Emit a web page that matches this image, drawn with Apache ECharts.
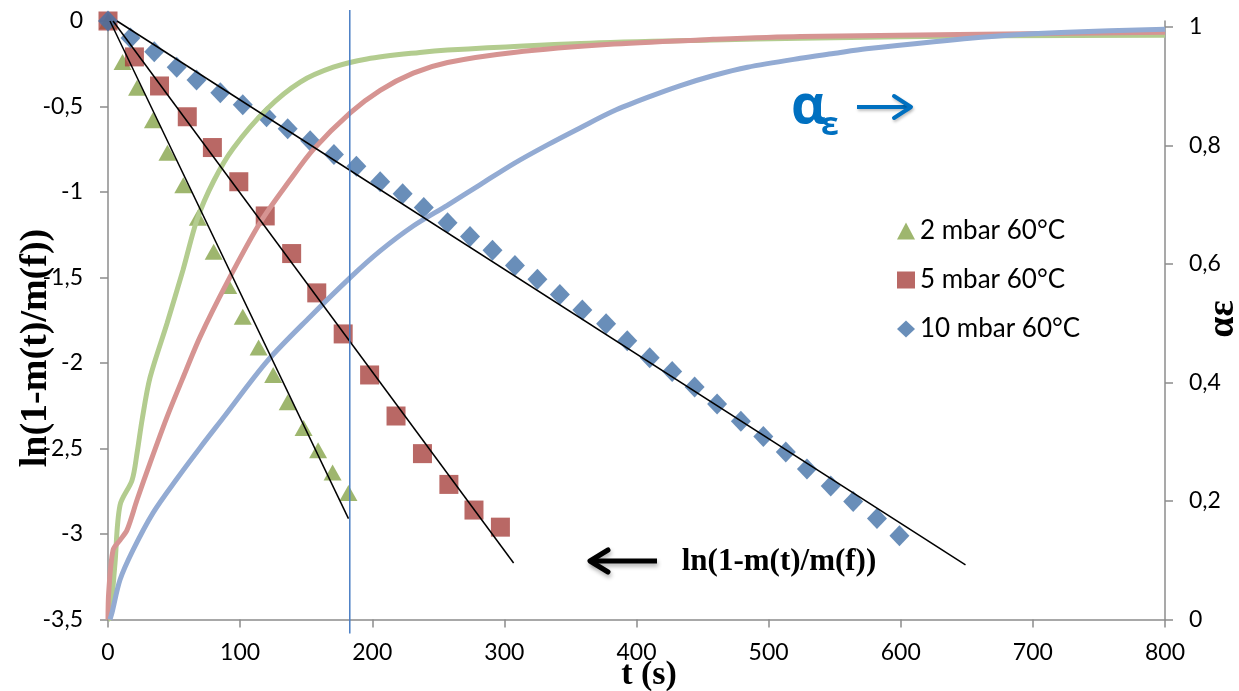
<!DOCTYPE html>
<html><head><meta charset="utf-8">
<script src="https://cdn.jsdelivr.net/npm/echarts@6/dist/echarts.min.js"></script>
<style>html,body{margin:0;padding:0;background:#fff}#c{width:1239px;height:691px}</style>
</head><body><div id="c"></div>
<script>
// ---- data ----
const names = ['2 mbar 60°C', '5 mbar 60°C', '10 mbar 60°C'];

const t2 = [0, 11, 22, 34, 45, 57, 68, 80, 91, 102, 114, 125, 136, 148, 159, 170, 182];
const y2 = [0, -0.24, -0.39, -0.58, -0.77, -0.96, -1.15, -1.35, -1.55, -1.73, -1.91, -2.07, -2.23, -2.38, -2.51, -2.64, -2.76];

const t5 = [0, 20, 39, 60, 79, 99, 119, 139, 158, 178, 198, 218, 238, 258, 277, 297];
const y5 = [0, -0.21, -0.38, -0.56, -0.74, -0.94, -1.14, -1.36, -1.59, -1.83, -2.07, -2.31, -2.53, -2.71, -2.86, -2.96];

const t10 = [0, 17, 35, 52, 67, 85, 102, 120, 136, 153, 171, 188, 206, 223, 239, 257, 274, 291, 308, 325, 342, 359, 377, 393, 410, 427, 444, 461, 479, 496, 513, 529, 547, 564, 582, 599];
const y10 = [0, -0.10, -0.18, -0.27, -0.345, -0.42, -0.49, -0.56, -0.63, -0.70, -0.78, -0.85, -0.94, -1.01, -1.09, -1.18, -1.26, -1.34, -1.43, -1.51, -1.60, -1.69, -1.77, -1.87, -1.97, -2.05, -2.14, -2.24, -2.34, -2.43, -2.52, -2.62, -2.72, -2.81, -2.91, -3.01];

// linear fits (ln axis)
const fit2T = [1.5, 182],  fit2Y = [0, -2.91];
const fit5T = [3.8, 307],  fit5Y = [0, -3.17];
const fit10T = [6.8, 649], fit10Y = [0, -3.18];

// alpha curves (right axis)
const a2T = [0, 1.5, 5.3, 9.1, 18.2, 22, 25.8, 31.8, 44.7, 56.8, 67.4, 80, 94.7, 120.5, 145.5, 170.5, 196, 236, 257, 358, 458, 524, 676, 800];
const a2V = [0, 0.003, 0.095, 0.193, 0.235, 0.281, 0.337, 0.408, 0.50, 0.59, 0.675, 0.74, 0.795, 0.862, 0.907, 0.932, 0.946, 0.957, 0.961, 0.972, 0.978, 0.981, 0.985, 0.986];

const a5T = [0, 0.5, 3.8, 9.1, 14.4, 22, 31.8, 44.7, 56, 69.7, 90.2, 115.2, 137.9, 155.3, 183.3, 206, 231, 257, 307, 383, 458, 524, 800];
const a5V = [0, 0.045, 0.117, 0.134, 0.151, 0.202, 0.264, 0.342, 0.404, 0.477, 0.569, 0.67, 0.742, 0.793, 0.855, 0.893, 0.922, 0.94, 0.957, 0.971, 0.979, 0.984, 0.991];

const a10T = [1.5, 3, 9.1, 18.9, 34.1, 52.3, 69.7, 87.1, 120.5, 153, 183.3, 206, 231, 256.8, 281.8, 306.8, 332.6, 357.6, 382.6, 408.3, 433.3, 458.3, 484, 524, 549, 574, 625, 676, 726, 800];
const a10V = [0, 0.011, 0.067, 0.117, 0.18, 0.238, 0.29, 0.34, 0.436, 0.511, 0.577, 0.622, 0.664, 0.699, 0.734, 0.769, 0.801, 0.83, 0.858, 0.881, 0.901, 0.918, 0.932, 0.947, 0.955, 0.963, 0.975, 0.985, 0.991, 0.996];

const markT = [183, 183], markY = [0.064, -3.582];

// ---- chart ----
const zip = (xs, ys) => xs.map((x, i) => [x, ys[i]]);
const comma = v => String(Math.round(v * 100) / 100).replace('.', ',');
const axisGrey = '#8c8c8c';
const tickFont = { fontFamily: 'Lato', fontSize: 23, color: '#000' };

const chart = echarts.init(document.getElementById('c'), null, { renderer: 'canvas' });
chart.setOption({
  animation: false,
  backgroundColor: '#fff',
  grid: { left: 108, right: 74, top: 21, bottom: 71.5, containLabel: false },
  xAxis: {
    type: 'value', min: 0, max: 800, interval: 100,
    axisLine: { show: true, onZero: false, lineStyle: { color: axisGrey, width: 1.5 } },
    axisTick: { show: true, inside: false, length: 8, lineStyle: { color: axisGrey, width: 1.5 } },
    axisLabel: Object.assign({ margin: 22 }, tickFont),
    splitLine: { show: false }
  },
  yAxis: [{
    type: 'value', min: -3.5, max: 0, interval: 0.5, position: 'left',
    axisLine: { show: true, onZero: false, lineStyle: { color: axisGrey, width: 1.5 } },
    axisTick: { show: true, inside: false, length: 8, lineStyle: { color: axisGrey, width: 1.5 } },
    axisLabel: Object.assign({ margin: 25, formatter: comma }, tickFont),
    splitLine: { show: false }
  }, {
    type: 'value', min: 0, max: 1.01, interval: 0.2, position: 'right',
    axisLine: { show: true, onZero: false, lineStyle: { color: axisGrey, width: 1.5 } },
    axisTick: { show: true, inside: false, length: 8, lineStyle: { color: axisGrey, width: 1.5 } },
    axisLabel: Object.assign({ margin: 24, showMaxLabel: false,
      formatter: v => (Math.abs(v * 5 - Math.round(v * 5)) < 1e-6 ? comma(v) : '') }, tickFont),
    splitLine: { show: false }
  }],
  legend: {
    data: names, orient: 'vertical', left: 892, top: 213,
    itemWidth: 18, itemHeight: 17, itemGap: 23,
    textStyle: { fontFamily: 'Lato', fontSize: 26, color: '#000' }
  },
  series: [
    { name: names[0], type: 'scatter', symbol: 'triangle', symbolSize: [18, 16], data: zip(t2, y2), itemStyle: { color: '#86A44A' }, z: 2 },
    { name: names[1], type: 'scatter', symbol: 'rect', symbolSize: 19, data: zip(t5, y5), itemStyle: { color: '#A8423F' }, z: 2 },
    { name: names[2], type: 'scatter', symbol: 'diamond', symbolSize: [20, 21], data: zip(t10, y10), itemStyle: { color: '#4472A8' }, z: 2 },
    { name: 'a2', type: 'line', yAxisIndex: 1, data: zip(a2T, a2V), showSymbol: false, smooth: 0.3, lineStyle: { color: '#B3CC8F', width: 5 }, z: 3 },
    { name: 'a5', type: 'line', yAxisIndex: 1, data: zip(a5T, a5V), showSymbol: false, smooth: 0.3, lineStyle: { color: '#D69492', width: 5 }, z: 3 },
    { name: 'a10', type: 'line', yAxisIndex: 1, data: zip(a10T, a10V), showSymbol: false, smooth: 0.3, lineStyle: { color: '#93ABD3', width: 5 }, z: 3 },
    { name: 'fit2', type: 'line', data: zip(fit2T, fit2Y), showSymbol: false, lineStyle: { color: '#000', width: 1.5 }, z: 4 },
    { name: 'fit5', type: 'line', data: zip(fit5T, fit5Y), showSymbol: false, lineStyle: { color: '#000', width: 1.5 }, z: 4 },
    { name: 'fit10', type: 'line', data: zip(fit10T, fit10Y), showSymbol: false, lineStyle: { color: '#000', width: 1.5 }, z: 4 },
    { name: 'mark', type: 'line', data: zip(markT, markY), showSymbol: false, clip: false, lineStyle: { color: '#4A7EC4', width: 1.5 }, z: 5 }
  ],
  graphic: [
    { type: 'text', x: 36, y: 348, rotation: Math.PI / 2,
      style: { text: 'ln(1-m(t)/m(f))', font: 'bold 38px "Liberation Serif"', fill: '#000', align: 'center', verticalAlign: 'middle' } },
    { type: 'text', x: 649, y: 675,
      style: { text: 't (s)', font: 'bold 34px "Liberation Serif"', fill: '#000', align: 'center', verticalAlign: 'middle' } },
    { type: 'text', x: 1223, y: 319, rotation: Math.PI / 2,
      style: { text: 'αε', font: 'bold 38px "Liberation Serif"', fill: '#000', align: 'center', verticalAlign: 'middle' } },
    { type: 'text', x: 779, y: 562,
      style: { text: 'ln(1-m(t)/m(f))', font: 'bold 31px "Liberation Serif"', fill: '#000', align: 'center', verticalAlign: 'middle' } },
    { type: 'text', x: 791, y: 108,
      style: { text: 'α', font: 'bold 54px "Open Sans"', fill: '#0070C0', align: 'left', verticalAlign: 'middle' } },
    { type: 'text', x: 821, y: 126,
      style: { text: 'ε', font: 'bold 32px "Open Sans"', fill: '#0070C0', align: 'left', verticalAlign: 'middle' } },
    { type: 'line', shape: { x1: 857, y1: 107, x2: 909, y2: 107 },
      style: { stroke: '#0070C0', lineWidth: 4, shadowBlur: 3, shadowColor: 'rgba(0,0,0,0.25)', shadowOffsetX: 1, shadowOffsetY: 2 } },
    { type: 'polyline', shape: { points: [[894, 96], [911, 107], [894, 118]] },
      style: { stroke: '#0070C0', lineWidth: 4, fill: null, lineCap: 'round', lineJoin: 'round', shadowBlur: 3, shadowColor: 'rgba(0,0,0,0.25)', shadowOffsetX: 1, shadowOffsetY: 2 } },
    { type: 'line', shape: { x1: 591, y1: 561, x2: 657, y2: 561 },
      style: { stroke: '#000', lineWidth: 5, shadowBlur: 4, shadowColor: 'rgba(0,0,0,0.3)', shadowOffsetX: 1, shadowOffsetY: 3 } },
    { type: 'polyline', shape: { points: [[608, 550], [590, 561], [608, 572]] },
      style: { stroke: '#000', lineWidth: 5, fill: null, lineCap: 'round', lineJoin: 'round', shadowBlur: 4, shadowColor: 'rgba(0,0,0,0.3)', shadowOffsetX: 1, shadowOffsetY: 3 } }
  ]
});
</script>
</body></html>
